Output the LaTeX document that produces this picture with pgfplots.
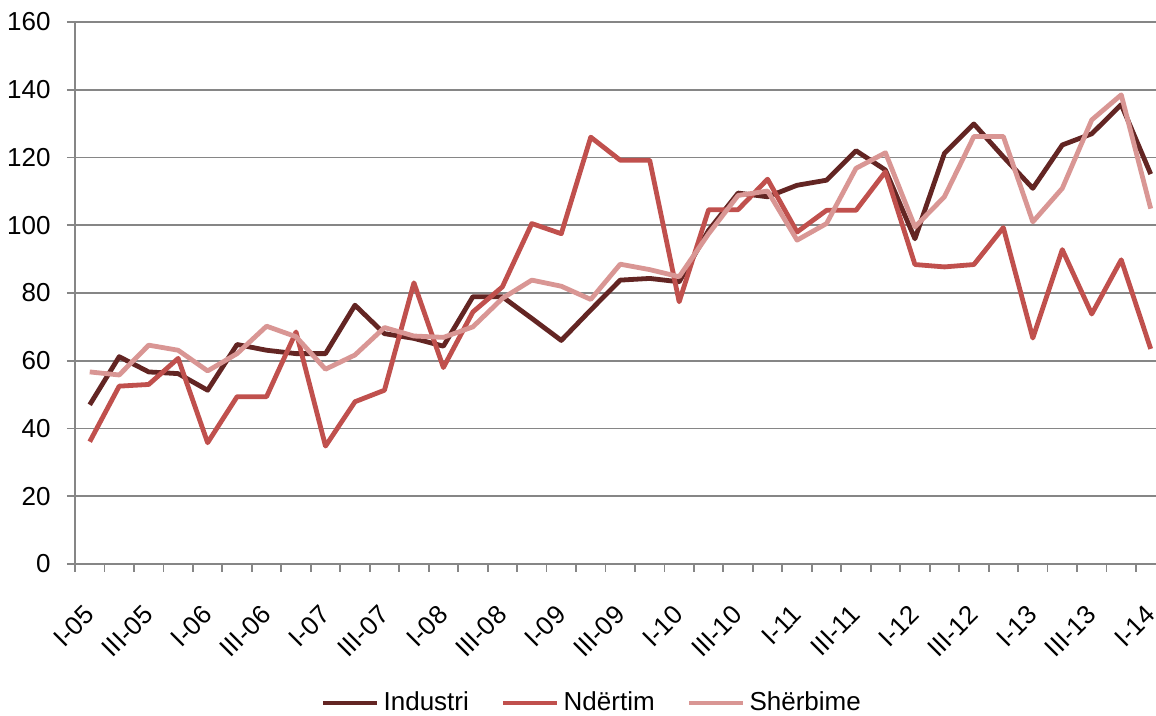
\documentclass[border=0pt]{standalone}
\usepackage{pgfplots}
\pgfplotsset{compat=1.18}
\usepackage{fontspec}
\setmainfont{Liberation Sans}
\definecolor{cInd}{HTML}{632523}
\definecolor{cNde}{HTML}{C0504D}
\definecolor{cSher}{HTML}{D99694}
\definecolor{cGrid}{HTML}{868686}
\begin{document}
\begin{tikzpicture}
\begin{axis}[
  scale only axis,
  width=540.5pt, height=271pt,
  xmin=-0.5, xmax=36.18,
  ymin=0, ymax=160,
  ytick={0,20,...,160},
  axis x line*=bottom, axis y line*=left,
  axis line style={cGrid, line width=0.9pt, -},
  ymajorgrids, grid style={cGrid, line width=0.9pt},
  xtick={0,2,...,36},
  xticklabels={I-05,III-05,I-06,III-06,I-07,III-07,I-08,III-08,I-09,III-09,I-10,III-10,I-11,III-11,I-12,III-12,I-13,III-13,I-14},
  minor xtick={-0.5,0.5,...,35.5},
  major x tick style={draw=none},
  minor tick length=4pt, major tick length=4pt,
  tick align=outside,
  tick style={cGrid, line width=0.9pt},
  every tick label/.append style={font=\fontsize{13}{15}\selectfont, text=black},
  /pgf/number format/assume math mode=true,
  xticklabel style={rotate=45, anchor=east, inner sep=0pt},
  xticklabel shift=19pt,
  yticklabel style={inner sep=0pt},
  yticklabel shift=8pt,
  legend columns=3,
  legend style={draw=none, at={(axis description cs:0.479,-0.2565)}, anchor=center,
    font=\fontsize{13}{15}\selectfont, /tikz/every even column/.append style={column sep=14pt}},
  legend image code/.code={\draw[#1] (0pt,0pt) -- (27pt,0pt);},
  every axis plot/.append style={line width=2.4pt, line join=round},
  clip=false,
]
\coordinate (bl) at (rel axis cs:0,0);
\coordinate (tr) at (rel axis cs:1,1);
\addplot[cInd] coordinates {
(0,47.0) (1,61.2) (2,56.7) (3,56.2) (4,51.3) (5,64.8) (6,63.1) (7,62.1) (8,62.1) (9,76.4)
(10,68.0) (11,66.6) (12,64.3) (13,78.9) (14,78.9) (15,72.5) (16,66.0) (17,75.0) (18,83.8) (19,84.3)
(20,83.3) (21,98.5) (22,109.5) (23,108.4) (24,111.8) (25,113.3) (26,122.0) (27,116.3) (28,96.0) (29,121.2)
(30,129.9) (31,120.2) (32,110.9) (33,123.7) (34,127.0) (35,135.6) (36,115.1)};
\addlegendentry{Industri}
\addplot[cNde] coordinates {
(0,36.1) (1,52.5) (2,53.0) (3,60.7) (4,35.8) (5,49.4) (6,49.4) (7,68.5) (8,34.8) (9,47.9)
(10,51.3) (11,83.0) (12,58.0) (13,74.4) (14,81.8) (15,100.5) (16,97.5) (17,126.0) (18,119.2) (19,119.2)
(20,77.4) (21,104.6) (22,104.6) (23,113.6) (24,98.0) (25,104.4) (26,104.4) (27,115.8) (28,88.4) (29,87.7)
(30,88.4) (31,99.3) (32,66.7) (33,92.8) (34,73.8) (35,89.8) (36,63.5)};
\addlegendentry{Ndërtim}
\addplot[cSher] coordinates {
(0,56.7) (1,55.8) (2,64.6) (3,63.1) (4,57.0) (5,62.1) (6,70.2) (7,67.1) (8,57.5) (9,61.7)
(10,69.8) (11,67.3) (12,66.9) (13,70.0) (14,78.4) (15,83.8) (16,82.0) (17,78.1) (18,88.5) (19,86.9)
(20,84.8) (21,97.5) (22,108.8) (23,110.1) (24,95.6) (25,100.5) (26,116.8) (27,121.4) (28,99.5) (29,108.4)
(30,126.2) (31,126.2) (32,101.0) (33,110.9) (34,131.1) (35,138.5) (36,104.9)};
\addlegendentry{Shërbime}
\end{axis}
\pgfresetboundingbox
\path[use as bounding box] ([xshift=-37.5pt,yshift=-76pt]bl) rectangle ([yshift=11pt]tr);
\end{tikzpicture}
\end{document}
